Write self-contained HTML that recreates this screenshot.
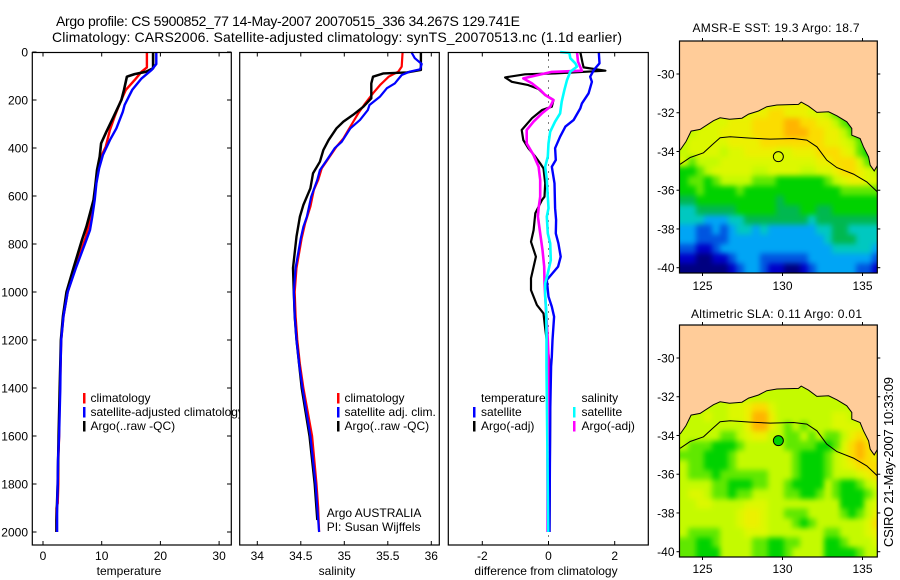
<!DOCTYPE html>
<html><head><meta charset="utf-8"><title>Argo profile</title>
<style>
html,body{margin:0;padding:0;background:#fff;width:900px;height:580px;overflow:hidden}
svg{display:block}
text{font-family:"Liberation Sans",sans-serif;font-size:12px;fill:#000}
</style></head>
<body>
<svg id="chart" xmlns="http://www.w3.org/2000/svg" width="900" height="580" viewBox="0 0 900 580">
<rect width="900" height="580" fill="#fff"/>
<text x="56" y="26" style="font-size:14px" textLength="464">Argo profile: CS 5900852_77 14-May-2007 20070515_336 34.267S 129.741E</text>
<text x="52" y="42" style="font-size:14px" textLength="570">Climatology: CARS2006. Satellite-adjusted climatology: synTS_20070513.nc (1.1d earlier)</text>
<g id="plots"></g>
<g id="maps"></g>
<text x="692.5" y="32" textLength="167">AMSR-E SST: 19.3  Argo: 18.7</text>
<text x="691" y="318" textLength="171">Altimetric SLA: 0.11  Argo: 0.01</text>
<text transform="translate(893,547) rotate(-90)" style="font-size:13px" textLength="170">CSIRO 21-May-2007 10:33:09</text>
</svg>
<script>
const depthTicks = [0, 200, 400, 600, 800, 1000, 1200, 1400, 1600, 1800, 2000];
const tempTicks = [0, 10, 20, 30];
const salTicks = [34, 34.5, 35, 35.5, 36];
const salTickLabels = ['34', '34.5', '35', '35.5', '36'];
const diffTicks = [-2, 0, 2];
const lonTicks = [125, 130, 135];
const latTicks = [-30, -32, -34, -36, -38, -40];

const tempClimDepth = [0,64,82,117,158,207,269,325,394,436,492,575,644,700,769,900,1000,1100,1200,1300,1400,1500,1600,1700,1800,1880,1900,2000];
const tempClimValue = [17.7,17.7,16.8,15.6,14.1,13.2,12.2,11.4,10.7,9.9,9.4,8.9,8.5,8.0,7.3,5.5,4.2,3.5,3.1,3.0,2.9,2.8,2.75,2.6,2.6,2.5,2.3,2.3];
const tempSatDepth = [0,50,75,110,158,221,249,318,367,429,485,547,617,686,742,783,900,1000,1100,1200,1300,1400,1500,1600,1700,1800,1900,2000];
const tempSatValue = [19.3,19.3,18.5,16.8,15.2,13.9,13.6,12.5,11.4,10.2,9.55,9.1,8.8,8.4,8,7.4,5.6,4.2,3.5,3.1,3.0,2.95,2.85,2.75,2.55,2.5,2.4,2.4];
const tempArgoDepth = [0,68,82,92,103,158,200,276,332,381,436,492,561,617,672,728,783,900,1000,1100,1200,1300,1400,1600,1800,1950,2000];
const tempArgoValue = [18.75,18.75,17.6,15.6,14.3,13.8,13.35,11.9,10.8,9.9,9.66,9.2,8.9,8.6,8,7.4,6.65,5.2,4.0,3.4,3.05,2.95,2.85,2.65,2.5,2.3,2.3];

const salClimDepth = [0,61,82,103,138,172,214,256,304,360,394,443,485,533,575,644,714,776,900,1000,1100,1200,1300,1400,1600,1800,1900,2000];
const salClimValue = [35.67,35.66,35.62,35.51,35.41,35.33,35.24,35.16,35.08,34.99,34.91,34.82,34.74,34.70,34.65,34.61,34.55,34.51,34.45,34.43,34.44,34.46,34.49,34.53,34.63,34.68,34.70,34.71];
const salSatDepth = [0,26,50,72,82,96,131,151,186,221,242,283,318,374,401,450,492,533,603,686,728,776,900,1000,1100,1200,1300,1400,1600,1800,1900,2000];
const salSatValue = [35.77,35.81,35.89,35.87,35.75,35.66,35.58,35.49,35.41,35.29,35.27,35.18,35.07,34.97,34.89,34.80,34.72,34.69,34.62,34.57,34.53,34.50,34.44,34.42,34.43,34.45,34.48,34.52,34.61,34.67,34.69,34.71];
const salArgoDepth = [0,75,85,89,103,131,193,228,262,290,318,367,408,457,506,568,637,686,769,900,1000,1100,1200,1300,1400,1600,1800,1950];
const salArgoValue = [35.88,35.88,35.72,35.45,35.33,35.31,35.31,35.22,35.10,34.99,34.91,34.82,34.76,34.72,34.64,34.61,34.53,34.49,34.45,34.41,34.42,34.43,34.45,34.48,34.51,34.60,34.66,34.69];

const diffTempArgoDepth = [0,47,64,78,89,93,106,124,138,154,179,200,228,242,276,325,367,401,436,464,485,547,603,617,672,742,791,853,943,992,1054,1089,1152,1283,1500,2000];
const diffTempArgoValue = [0.96,1.03,1.06,1.72,0.2,-0.71,-1.31,-1.11,-0.61,-0.3,-0.1,0.15,0.1,-0.2,-0.5,-0.81,-0.76,-0.61,-0.4,-0.25,-0.15,-0.1,-0.12,-0.2,-0.4,-0.45,-0.53,-0.38,-0.53,-0.53,-0.35,-0.15,-0.1,0.02,0.05,0.03];
const diffTempSatDepth = [0,47,75,103,124,172,214,235,283,311,353,401,450,478,547,651,700,756,797,853,894,950,1019,1061,1103,1200,1270,1311,1500,2000];
const diffTempSatValue = [1.52,1.54,1.37,1.26,1.31,1.21,1.01,0.96,0.76,0.51,0.35,0.2,0.22,0.1,0.18,0.2,0.23,0.22,0.3,0.37,0.29,-0.05,0,0.1,0.17,0.12,0.1,0.08,0.05,0.03];
const diffSalSatDepth = [0,4,26,47,61,82,117,158,207,256,290,332,381,436,478,533,603,651,686,756,797,867,922,964,1019,1075,1172,1311,1700,2000];
const diffSalSatValue = [0.35,0.63,0.66,0.81,0.86,0.66,0.56,0.48,0.40,0.35,0.2,0.05,0,-0.02,-0.1,-0.05,-0.02,0,-0.05,-0.02,0.05,0.07,-0.02,-0.1,-0.1,-0.07,-0.06,-0.06,-0.03,-0.01];
const diffSalArgoDepth = [0,40,78,83,110,131,158,179,200,228,256,290,325,381,430,478,533,603,651,686,756,825,894,964,1089,1200,1270,1700,2000];
const diffSalArgoValue = [0.86,0.89,1.01,0.1,-0.76,-0.5,-0.25,-0.1,0.15,0.05,-0.2,-0.45,-0.66,-0.66,-0.45,-0.3,-0.25,-0.25,-0.3,-0.32,-0.25,-0.18,-0.13,-0.12,-0.07,-0.02,0,-0.03,-0.03];

const sstGrid = [
[9,9,9,9,9,9,9,9,9,9,9,9,10,10,10,10,9,9,9,9,8,8,8,8,8],
[9,9,9,9,9,9,9,9,9,10,10,11,11,10,10,10,9,9,8,7,6,6,6,6,6],
[8,8,8,9,9,9,10,10,10,11,11,11,11,12,12,11,11,10,10,8,7,6,6,6,6],
[8,8,9,9,9,10,10,10,10,11,11,11,11,12,12,12,11,11,10,10,8,7,6,6,6],
[8,9,9,9,9,9,10,10,10,10,11,11,11,11,11,11,11,11,10,10,9,8,7,6,6],
[8,9,9,9,9,8,9,9,10,10,10,10,9,9,10,10,10,11,11,11,10,9,7,6,6],
[9,7,8,8,8,9,9,9,9,9,9,9,9,9,9,9,9,10,10,11,11,11,9,7,6],
[6,6,7,8,9,9,9,9,9,8,8,9,9,9,9,8,8,9,9,10,11,11,10,9,8],
[6,7,7,6,7,8,8,8,8,7,7,7,6,6,6,6,6,6,7,8,9,10,10,9,9],
[6,6,7,6,6,6,6,7,6,6,6,6,6,6,6,6,6,6,6,6,7,7,7,7,7],
[5,5,6,6,6,6,6,6,6,6,6,6,5,6,6,6,6,6,6,6,6,6,6,6,6],
[4,4,5,5,5,5,5,6,6,6,6,6,5,5,5,6,6,5,5,6,6,6,6,6,6],
[4,4,4,3,3,3,4,4,5,5,5,5,5,5,5,5,4,5,5,5,5,5,5,5,5],
[3,3,2,2,3,2,3,4,4,3,4,3,3,3,3,3,3,4,4,5,5,4,4,4,4],
[3,3,2,2,2,2,3,3,3,3,3,3,3,3,3,3,3,3,4,5,5,5,4,4,4],
[2,2,1,1,2,3,3,3,3,3,3,3,3,3,3,3,3,3,3,4,4,4,4,4,3],
[1,1,0,0,1,1,2,3,3,3,2,2,2,2,2,2,3,3,3,3,3,3,3,3,2],
[0,0,0,0,0,0,1,2,3,3,2,1,1,0,0,1,2,3,3,3,3,3,2,2,1]
];
const slaGrid = [
[8,8,8,8,8,8,8,8,8,8,8,8,8,8,8,8,8,8,8,8,8,8,8,8,8],
[8,8,8,8,8,8,8,8,8,8,8,8,8,8,8,8,8,8,8,8,8,8,8,8,8],
[8,8,8,8,8,8,9,9,10,11,11,9,8,8,8,8,8,8,8,8,8,8,8,8,8],
[8,8,8,9,8,8,9,9,10,12,12,10,8,8,8,8,8,8,8,9,9,8,8,8,8],
[8,8,8,8,8,8,8,8,10,12,12,10,8,7,8,7,8,8,8,9,9,9,9,8,8],
[8,8,8,8,8,7,7,8,9,10,10,8,8,7,7,8,7,8,7,7,8,10,11,10,9],
[8,7,7,7,6,6,6,7,8,8,8,8,8,7,7,7,7,6,6,7,9,11,12,11,10],
[7,7,7,6,6,6,7,8,8,8,8,8,8,8,7,6,6,6,7,8,9,11,12,11,10],
[8,7,7,6,6,6,7,8,8,8,8,8,8,8,7,6,6,6,7,8,9,10,11,11,11],
[8,7,7,7,6,7,7,7,7,7,7,8,8,8,7,6,6,6,7,8,8,8,9,10,11],
[8,8,8,8,7,7,6,6,6,7,7,8,8,7,6,6,6,6,8,7,6,6,7,8,9],
[8,9,9,8,7,7,6,7,7,8,8,8,8,7,7,6,6,7,8,7,6,6,6,7,8],
[8,8,9,9,8,8,8,8,9,9,9,8,8,8,8,8,8,8,8,8,6,6,6,8,9],
[8,8,8,8,8,8,8,9,10,10,9,8,8,7,7,7,8,8,8,8,7,6,7,8,10],
[8,8,8,8,8,8,8,9,10,10,9,8,8,8,7,6,7,8,8,8,8,8,8,9,11],
[8,7,7,7,7,8,8,8,9,9,9,8,8,8,8,8,8,8,7,7,8,8,8,9,10],
[7,7,6,6,7,8,8,8,8,7,7,6,6,7,7,8,8,8,6,6,7,8,8,8,9],
[7,7,6,6,6,8,8,8,8,7,7,6,6,7,8,8,8,8,6,6,6,6,7,8,8]
];
const coastLon = [123.6,123.96,124.29,124.85,125.69,126.1,126.69,127.46,127.88,128.5,129.02,129.65,131,131.17,131.63,132.15,132.88,133.4,134.02,134.33,134.33,134.85,135.06,135.38,135.48,135.73,135.94];
const coastLat = [-33.93,-33.5,-32.95,-32.86,-32.41,-32.26,-32.34,-32.28,-32.07,-31.91,-31.69,-31.6,-31.57,-31.45,-31.66,-31.98,-31.95,-32.16,-32.47,-32.81,-33.16,-33.33,-33.76,-34.28,-34.71,-35,-34.71];
const contourLon = [123.6,124.23,125.06,125.58,126.1,126.73,127.98,129.23,130.69,131.52,132.15,132.77,133.4,134.44,135.27,135.94];
const contourLat = [-34.66,-34.31,-34.07,-33.67,-33.29,-33.24,-33.31,-33.36,-33.33,-33.41,-33.76,-34.45,-34.83,-35.17,-35.57,-36.09];
const floatLon = 129.741;
const floatLat = -34.267;
const sstFloatLevel = 9;
const slaFloatLevel = 6;

const NS = 'http://www.w3.org/2000/svg';
const levelColors = ['#000080','#0000c8','#0055e0','#00a5f5','#00c8c0','#00b850','#00d200','#60e800','#c4fa00','#dcf800','#ecf000','#fbdc00','#ffb400'];
const depthY = d => 52 + 0.24 * d;
const tempX = v => 43 + 5.87 * v;
const salX = v => 257.3 + 87 * (v - 34);
const diffX = v => 548.5 + 33.1 * v;

function mk(parent, tag, attrs, name, text) {
  const el = document.createElementNS(NS, tag);
  for (const k in attrs) el.setAttribute(k, attrs[k]);
  
  
  if (text !== undefined) el.textContent = text;
  parent.appendChild(el);
  return el;
}
function frame(g, x0, y0, x1, y1, name) {
  mk(g, 'rect', {x:x0, y:y0, width:x1-x0, height:y1-y0, fill:'none', stroke:'#000', 'stroke-width':1.2}, name);
}
function vTicks(g, ticks, fx, y0, y1, labels, labelY, prefix) {
  ticks.forEach((t, i) => {
    const x = fx(t);
    mk(g, 'line', {x1:x, x2:x, y1:y0, y2:y0+4, stroke:'#000'}, prefix + '-top-tick');
    mk(g, 'line', {x1:x, x2:x, y1:y1, y2:y1-4, stroke:'#000'}, prefix + '-bottom-tick');
    mk(g, 'text', {x:x, y:labelY, 'text-anchor':'middle'}, prefix + '-tick-label', labels ? labels[i] : String(t));
  });
}
function series(g, fx, depths, values, color, w, name) {
  const pts = depths.map((d, i) => fx(values[i]).toFixed(1) + ',' + depthY(d).toFixed(1)).join(' ');
  mk(g, 'polyline', {points:pts, fill:'none', stroke:color, 'stroke-width':w, 'stroke-linejoin':'round'}, name);
}
function legendRow(g, mx, tx, row, color, label, name) {
  const base = [402, 416, 430][row];
  if (color) mk(g, 'rect', {x:mx-1, y:base-9, width:2.5, height:10.5, fill:color}, name + '-marker');
  mk(g, 'text', {x:tx, y:base}, name + '-label', label);
}

const plots = document.getElementById('plots');
const TOP = 52.5, BOT = 545;

// Temperature panel
const p1 = mk(plots, 'g', {}, 'temperature-panel');
mk(p1, 'rect', {x:32.3, y:TOP, width:199, height:BOT-TOP, fill:'#fff'}, 'temperature-plot-area');
depthTicks.forEach(d => {
  const y = depthY(d);
  mk(p1, 'line', {x1:32.3, x2:36.5, y1:y, y2:y, stroke:'#000'}, 'depth-left-tick');
  mk(p1, 'line', {x1:231.3, x2:227, y1:y, y2:y, stroke:'#000'}, 'depth-right-tick');
  mk(p1, 'text', {x:28, y:y+4.5, 'text-anchor':'end'}, 'depth-tick-label', String(d));
});
vTicks(p1, tempTicks, tempX, TOP, BOT, null, 560, 'temperature');
series(p1, tempX, tempClimDepth, tempClimValue, '#ff0000', 2.4, 'temperature-climatology-line');
series(p1, tempX, tempArgoDepth, tempArgoValue, '#000', 2.6, 'temperature-argo-line');
series(p1, tempX, tempSatDepth, tempSatValue, '#0000ff', 2.4, 'temperature-satellite-line');
legendRow(p1, 84, 90.5, 0, '#ff0000', 'climatology', 'temperature-legend-climatology');
legendRow(p1, 84, 90.5, 1, '#0000ff', 'satellite-adjusted climatology', 'temperature-legend-satellite');
legendRow(p1, 84, 90.5, 2, '#000', 'Argo(..raw -QC)', 'temperature-legend-argo');
frame(p1, 32.3, TOP, 231.3, BOT, 'temperature-frame');
mk(p1, 'text', {x:129, y:575, 'text-anchor':'middle'}, 'temperature-axis-title', 'temperature');

// Salinity panel
const p2 = mk(plots, 'g', {}, 'salinity-panel');
mk(p2, 'rect', {x:239.7, y:TOP, width:199.6, height:BOT-TOP, fill:'#fff'}, 'salinity-plot-area');
vTicks(p2, salTicks, salX, TOP, BOT, salTickLabels, 560, 'salinity');
series(p2, salX, salClimDepth, salClimValue, '#ff0000', 2.2, 'salinity-climatology-line');
series(p2, salX, salArgoDepth, salArgoValue, '#000', 2.4, 'salinity-argo-line');
series(p2, salX, salSatDepth, salSatValue, '#0000ff', 2.2, 'salinity-satellite-line');
legendRow(p2, 338, 344.5, 0, '#ff0000', 'climatology', 'salinity-legend-climatology');
legendRow(p2, 338, 344.5, 1, '#0000ff', 'satellite adj. clim.', 'salinity-legend-satellite');
legendRow(p2, 338, 344.5, 2, '#000', 'Argo(..raw -QC)', 'salinity-legend-argo');
mk(p2, 'text', {x:326.7, y:517}, 'argo-australia-note', 'Argo AUSTRALIA');
mk(p2, 'text', {x:326.7, y:531}, 'pi-note', 'PI: Susan Wijffels');
frame(p2, 239.7, TOP, 439.3, BOT, 'salinity-frame');
mk(p2, 'text', {x:337, y:575, 'text-anchor':'middle'}, 'salinity-axis-title', 'salinity');

// Difference panel
const p3 = mk(plots, 'g', {}, 'difference-panel');
mk(p3, 'rect', {x:448.3, y:TOP, width:200, height:BOT-TOP, fill:'#fff'}, 'difference-plot-area');
vTicks(p3, diffTicks, diffX, TOP, BOT, null, 560, 'difference');
mk(p3, 'line', {x1:diffX(0), x2:diffX(0), y1:TOP, y2:BOT, stroke:'#000', 'stroke-dasharray':'1 6'}, 'zero-reference-line');
series(p3, diffX, diffTempArgoDepth, diffTempArgoValue, '#000', 2.2, 'difference-temperature-argo-line');
series(p3, diffX, diffTempSatDepth, diffTempSatValue, '#0000ff', 2.4, 'difference-temperature-satellite-line');
series(p3, diffX, diffSalArgoDepth, diffSalArgoValue, '#ff00ff', 2.6, 'difference-salinity-argo-line');
series(p3, diffX, diffSalSatDepth, diffSalSatValue, '#00ffff', 2.6, 'difference-salinity-satellite-line');
legendRow(p3, 474, 481, 0, null, 'temperature', 'difference-legend-temperature');
legendRow(p3, 474, 481, 1, '#0000ff', 'satellite', 'difference-legend-temperature-satellite');
legendRow(p3, 474, 481, 2, '#000', 'Argo(-adj)', 'difference-legend-temperature-argo');
legendRow(p3, 574, 581.5, 0, null, 'salinity', 'difference-legend-salinity');
legendRow(p3, 574, 581.5, 1, '#00ffff', 'satellite', 'difference-legend-salinity-satellite');
legendRow(p3, 574, 581.5, 2, '#ff00ff', 'Argo(-adj)', 'difference-legend-salinity-argo');
frame(p3, 448.3, TOP, 648.3, BOT, 'difference-frame');
mk(p3, 'text', {x:546, y:575, 'text-anchor':'middle'}, 'difference-axis-title', 'difference from climatology');

// Maps
const lonX = lon => 702.5 + 16 * (lon - 125);
const MAP_L = 679.5, MAP_R = 877.3, LON0 = 123.6;
function drawMap(name, grid, topY, botY, lat30Y, floatLevel, clipId, labelY) {
  const latY = lat => lat30Y + (-30 - lat) * 19.37;
  const g = mk(document.getElementById('maps'), 'g', {}, name);
  const defs = mk(g, 'defs', {}, name + '-defs');
  const cp = mk(defs, 'clipPath', {id:clipId}, name + '-clip');
  mk(cp, 'rect', {x:MAP_L, y:topY, width:MAP_R-MAP_L, height:botY-topY}, name + '-clip-rect');
  const flt = mk(defs, 'filter', {id:clipId + 'Blur', filterUnits:'userSpaceOnUse', x:640, y:topY-30, width:260, height:botY-topY+60, 'color-interpolation-filters':'sRGB'}, name + '-smoothing');
  mk(flt, 'feGaussianBlur', {stdDeviation:2.6}, name + '-smoothing-blur');
  const inner = mk(g, 'g', {'clip-path':'url(#' + clipId + ')'}, name + '-contents');
  const cells = mk(inner, 'g', {filter:'url(#' + clipId + 'Blur)'}, name + '-heatmap');
  const rowH = 0.5 * 19.37, colW = 8, pad = 12;
  const n = grid.length;
  grid.forEach((row, r) => row.forEach((v, c) => {
    const y = botY - (n - r) * rowH;
    const x = lonX(LON0) + c * colW;
    const left = c === 0 ? pad : 0;
    const right = c === row.length - 1 ? pad : 0;
    const below = r === n - 1 ? pad : 0;
    mk(cells, 'rect', {x:(x - left).toFixed(1), y:y.toFixed(1), width:colW + 0.3 + left + right, height:(rowH + 0.3 + below).toFixed(1), fill:levelColors[v], 'shape-rendering':'crispEdges'}, name + '-cell');
  }));
  const coastPts = coastLon.map((lon, i) => lonX(lon).toFixed(1) + ',' + latY(coastLat[i]).toFixed(1));
  const landPts = coastPts.concat([MAP_R + ',' + latY(coastLat[coastLat.length - 1]).toFixed(1), MAP_R + ',' + topY, MAP_L + ',' + topY, MAP_L + ',' + latY(coastLat[0]).toFixed(1)]);
  mk(inner, 'polygon', {points:landPts.join(' '), fill:'#ffcc99'}, name + '-land');
  mk(inner, 'polyline', {points:coastPts.join(' '), fill:'none', stroke:'#000', 'stroke-width':1}, name + '-coastline');
  const contourPts = contourLon.map((lon, i) => lonX(lon).toFixed(1) + ',' + latY(contourLat[i]).toFixed(1));
  mk(inner, 'polyline', {points:contourPts.join(' '), fill:'none', stroke:'#000', 'stroke-width':1}, name + '-depth-contour');
  mk(g, 'circle', {cx:lonX(floatLon), cy:latY(floatLat), r:5, fill:levelColors[floatLevel], stroke:'#000', 'stroke-width':1}, name + '-float-marker');
  frame(g, MAP_L, topY, MAP_R, botY, name + '-frame');
  lonTicks.forEach(t => {
    const x = lonX(t);
    mk(g, 'line', {x1:x, x2:x, y1:topY, y2:topY-3, stroke:'#000'}, name + '-lon-top-tick');
    mk(g, 'line', {x1:x, x2:x, y1:botY, y2:botY+3, stroke:'#000'}, name + '-lon-bottom-tick');
    mk(g, 'text', {x:x, y:labelY, 'text-anchor':'middle'}, name + '-lon-label', String(t));
  });
  latTicks.forEach(t => {
    const y = latY(t);
    mk(g, 'line', {x1:MAP_L, x2:MAP_L-3, y1:y, y2:y, stroke:'#000'}, name + '-lat-left-tick');
    mk(g, 'line', {x1:MAP_R, x2:MAP_R+3, y1:y, y2:y, stroke:'#000'}, name + '-lat-right-tick');
    mk(g, 'text', {x:674.5, y:y+4.5, 'text-anchor':'end'}, name + '-lat-label', String(t));
  });
}
drawMap('sst-map', sstGrid, 41, 273, 74, sstFloatLevel, 'clipSst', 290);
drawMap('sla-map', slaGrid, 325, 557, 358, slaFloatLevel, 'clipSla', 573);
</script>
</body></html>
